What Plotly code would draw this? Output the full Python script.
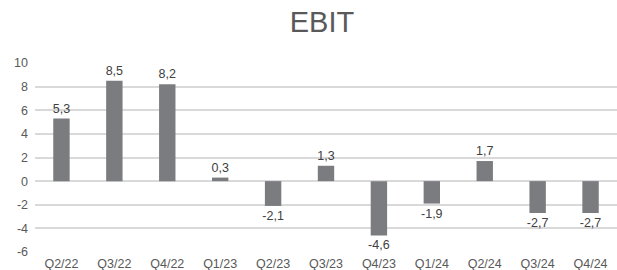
import plotly.graph_objects as go

categories = ["Q2/22", "Q3/22", "Q4/22", "Q1/23", "Q2/23", "Q3/23", "Q4/23", "Q1/24", "Q2/24", "Q3/24", "Q4/24"]
ebit = [5.3, 8.5, 8.2, 0.3, -2.1, 1.3, -4.6, -1.9, 1.7, -2.7, -2.7]
labels = [f"{v:.1f}".replace(".", ",") for v in ebit]
y_ticks = [-6, -4, -2, 0, 2, 4, 6, 8, 10]

fig = go.Figure()
fig.add_trace(go.Bar(
    x=categories, y=ebit,
    marker=dict(color="#7a7c7f", line=dict(width=0)),
    width=0.31,
    text=labels, textposition="outside", constraintext="none",
    textfont=dict(size=12.5, color="#404040", family="Liberation Sans"),
    cliponaxis=False,
))
fig.update_layout(
    width=617, height=270,
    margin=dict(l=35, r=0, t=63, b=18, autoexpand=False),
    paper_bgcolor="white", plot_bgcolor="white",
    title=dict(text="EBIT", x=322/617, xanchor="center", y=0.92, yanchor="middle",
               font=dict(size=29, color="#595959", family="Liberation Sans")),
    showlegend=False,
    xaxis=dict(showgrid=False, showline=False, ticks="", automargin=False,
               ticklabelstandoff=2,
               tickfont=dict(size=12.5, color="#595959", family="Liberation Sans")),
    yaxis=dict(range=[-6, 10], tickvals=y_ticks, automargin=False,
               ticktext=[str(v) for v in y_ticks],
               showgrid=True, gridcolor="#d9d9d9", gridwidth=1.5,
               zeroline=True, zerolinecolor="#d9d9d9", zerolinewidth=1.5,
               ticks="", ticklabelstandoff=6,
               tickfont=dict(size=12.5, color="#595959", family="Liberation Sans")),
)
fig.write_html("out.html", config={"displayModeBar": False},
               post_script="document.body.style.margin='0';document.body.style.padding='0';")
